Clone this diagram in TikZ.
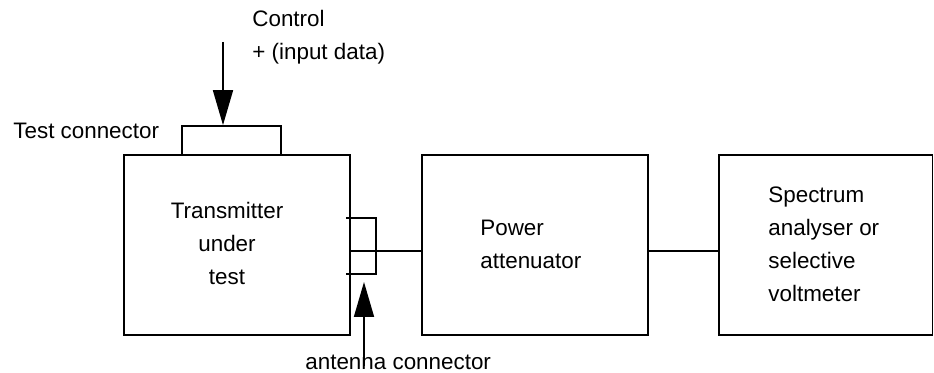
\documentclass[tikz,border=0pt]{standalone}
\usepackage{fontspec}
\setmainfont{Liberation Sans}
\usetikzlibrary{arrows.meta}
\begin{document}
\begin{tikzpicture}[x=0.5pt,y=-0.5pt,
  box/.style={draw,line width=0.85pt,inner sep=0pt},
  conn/.style={line width=0.6pt},
  bigarrow/.style={line width=0.85pt,-{Triangle[length=17.5pt,width=10pt]}},
  lbl/.style={inner sep=0pt,font=\fontsize{11.2}{16.5}\selectfont}]
\useasboundingbox (0,0) rectangle (934,373);
% boxes
\node[box,minimum width=113pt,minimum height=90pt] (tx) at (237,245) {};
\node[box,minimum width=113pt,minimum height=90pt] (pa) at (535,245) {};
\node[box,minimum width=106.75pt,minimum height=90pt] (sa) at (825.75,245) {};
\node[box,minimum width=49.5pt,minimum height=14.5pt] (tc) at (231.5,140.5) {};
% texts (base anchor = baseline of the last line)
\node[lbl,anchor=base west,align=left] (ctltext) at (252,60) {Control\\+ (input data)};
\node[lbl,anchor=base west] (tctext) at (13,139) {Test connector};
\node[lbl,anchor=base,align=center] (txtext) at (227,285) {Transmitter\\under\\test};
\node[lbl,anchor=base west,align=left] (patext) at (480,269) {Power\\attenuator};
\node[lbl,anchor=base west,align=left] (satext) at (768,302) {Spectrum\\analyser or\\selective\\voltmeter};
\node[lbl,anchor=base west] (actext) at (305,370) {antenna connector};
% control arrow
\coordinate (ctl) at (223,42);
\draw[bigarrow] (ctl) -- (ctl |- tc.north);
% antenna connector bracket
\coordinate (bt) at (346,218);
\coordinate (bb) at (346,274);
\draw[line width=0.85pt] (bt) -- (376,218) -- (376,274) -- (bb);
% connections
\coordinate (y1) at (0,251);
\draw[conn] (tx.east |- y1) -- (pa.west |- y1);
\draw[conn] (pa.east |- y1) -- (sa.west |- y1);
% antenna arrow
\coordinate (ant) at (364,366);
\draw[bigarrow] (ant) -- (364,282);
\end{tikzpicture}
\end{document}
